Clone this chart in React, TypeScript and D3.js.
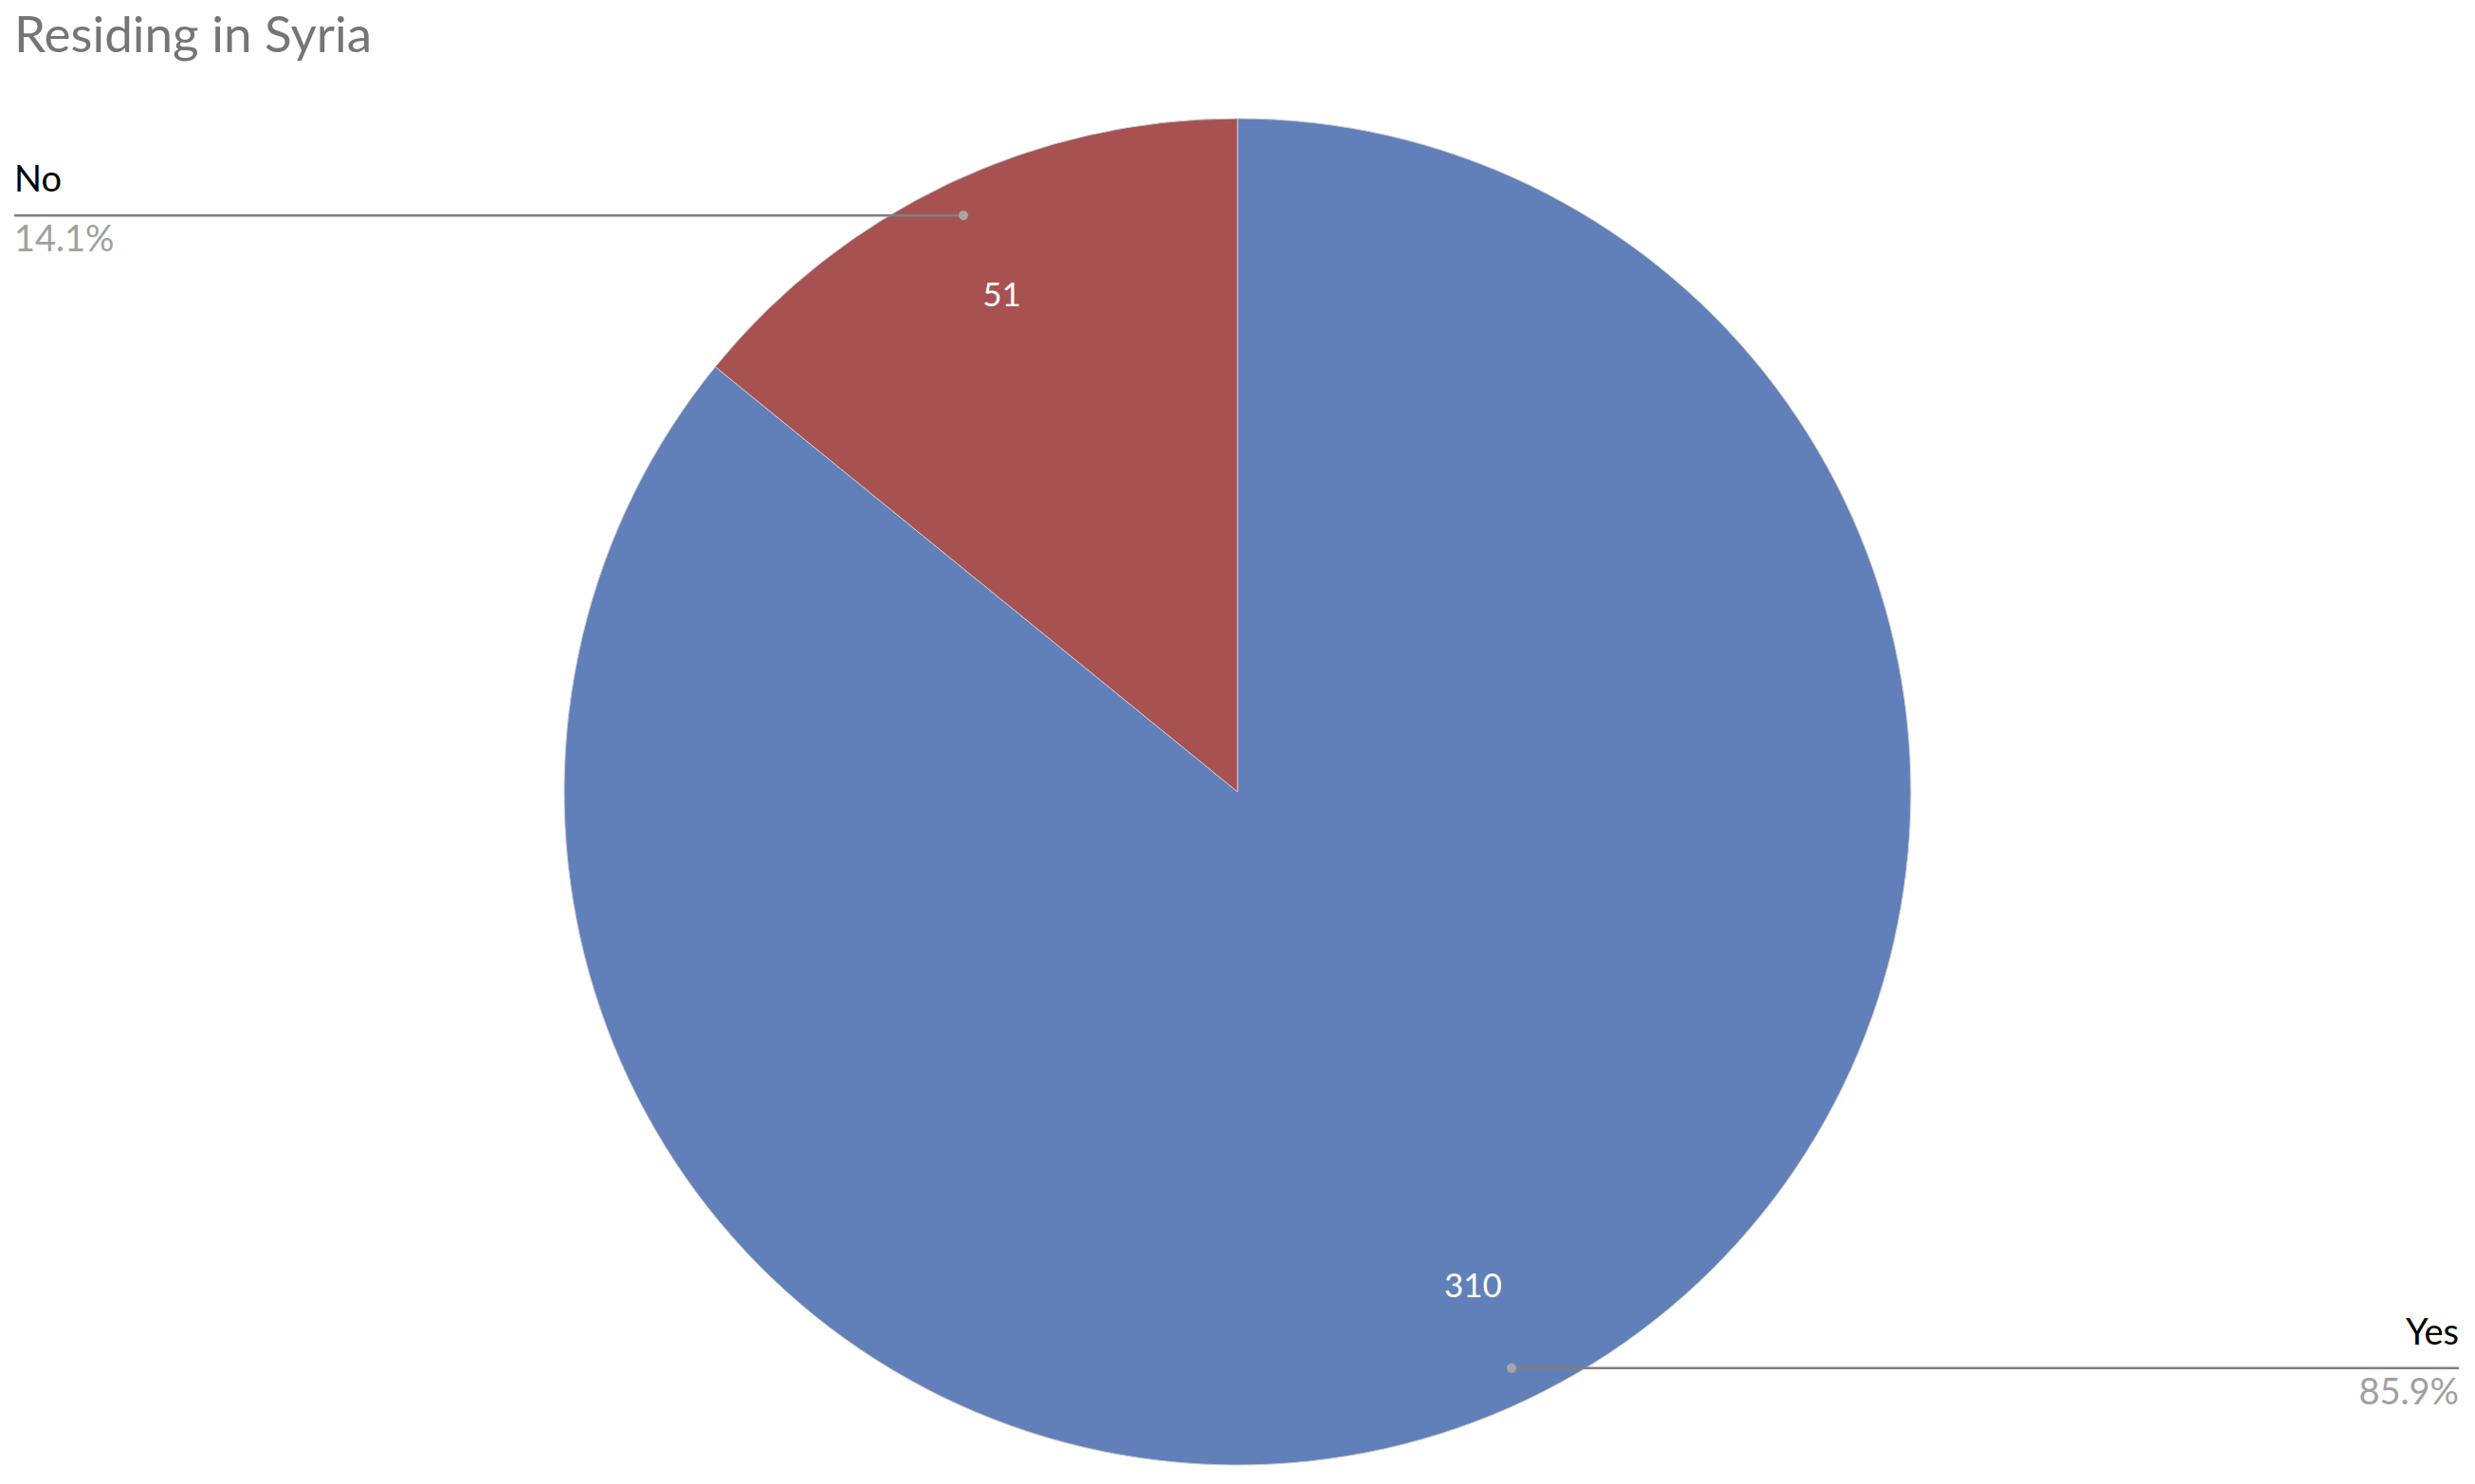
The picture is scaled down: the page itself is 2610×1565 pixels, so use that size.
import React from "react";
import * as d3 from "d3";

const categories = ["Yes", "No"];
const counts = [310, 51];
const percentLabels = ["85.9%", "14.1%"];
const colors = ["#6180B9", "#A75250"];
const title = "Residing in Syria";

const W = 2610;
const H = 1565;
const FONT = "Lato, 'Open Sans', sans-serif";

export default function App() {
  const cx = 1305;
  const cy = 835;
  const r = 710;
  const pie = d3.pie<number>().sort(null).value((d) => d);
  const arcs = pie(counts);
  const arcGen = d3.arc<d3.PieArcDatum<number>>().innerRadius(0).outerRadius(r);
  const pt = (a: number, rr: number) => [Math.sin(a) * rr, -Math.cos(a) * rr];

  return (
    <svg width={W} height={H} style={{ position: "absolute", left: 0, top: 0, background: "#fff" }}>
      <text x={15} y={55} fontFamily={FONT} fontSize={53} fill="#757575">
        {title}
      </text>
      <g transform={`translate(${cx},${cy})`}>
        {arcs.map((a, i) => (
          <path key={i} d={arcGen(a) || ""} fill={colors[i]} stroke="#c9c9d6" strokeWidth={1} />
        ))}
        {arcs.map((a, i) => {
          const mid = (a.startAngle + a.endAngle) / 2;
          const [lx, ly] = pt(mid, r * 0.815);
          return (
            <text key={"v" + i} x={lx} y={ly} dy="0.3em" textAnchor="middle" fontFamily={FONT} fontSize={35} fill="#ffffff">
              {counts[i]}
            </text>
          );
        })}
      </g>
      {arcs.map((a, i) => {
        const mid = (a.startAngle + a.endAngle) / 2;
        const [dx, dy] = pt(mid, r * 0.948);
        const x0 = cx + dx;
        const y0 = cy + dy;
        const right = dx > 0;
        const xEnd = right ? 2593 : 15;
        return (
          <g key={"l" + i}>
            <line x1={x0} y1={y0} x2={xEnd} y2={y0} stroke="#7f7f7f" strokeWidth={2.5} />
            <circle cx={x0} cy={y0} r={5} fill="#a6a6a6" />
            <text x={xEnd} y={y0 - 25} textAnchor={right ? "end" : "start"} fontFamily={FONT} fontSize={38} fill="#000000">
              {categories[i]}
            </text>
            <text x={xEnd} y={y0 + 38} textAnchor={right ? "end" : "start"} fontFamily={FONT} fontSize={38} fill="#a0a0a0">
              {percentLabels[i]}
            </text>
          </g>
        );
      })}
    </svg>
  );
}
